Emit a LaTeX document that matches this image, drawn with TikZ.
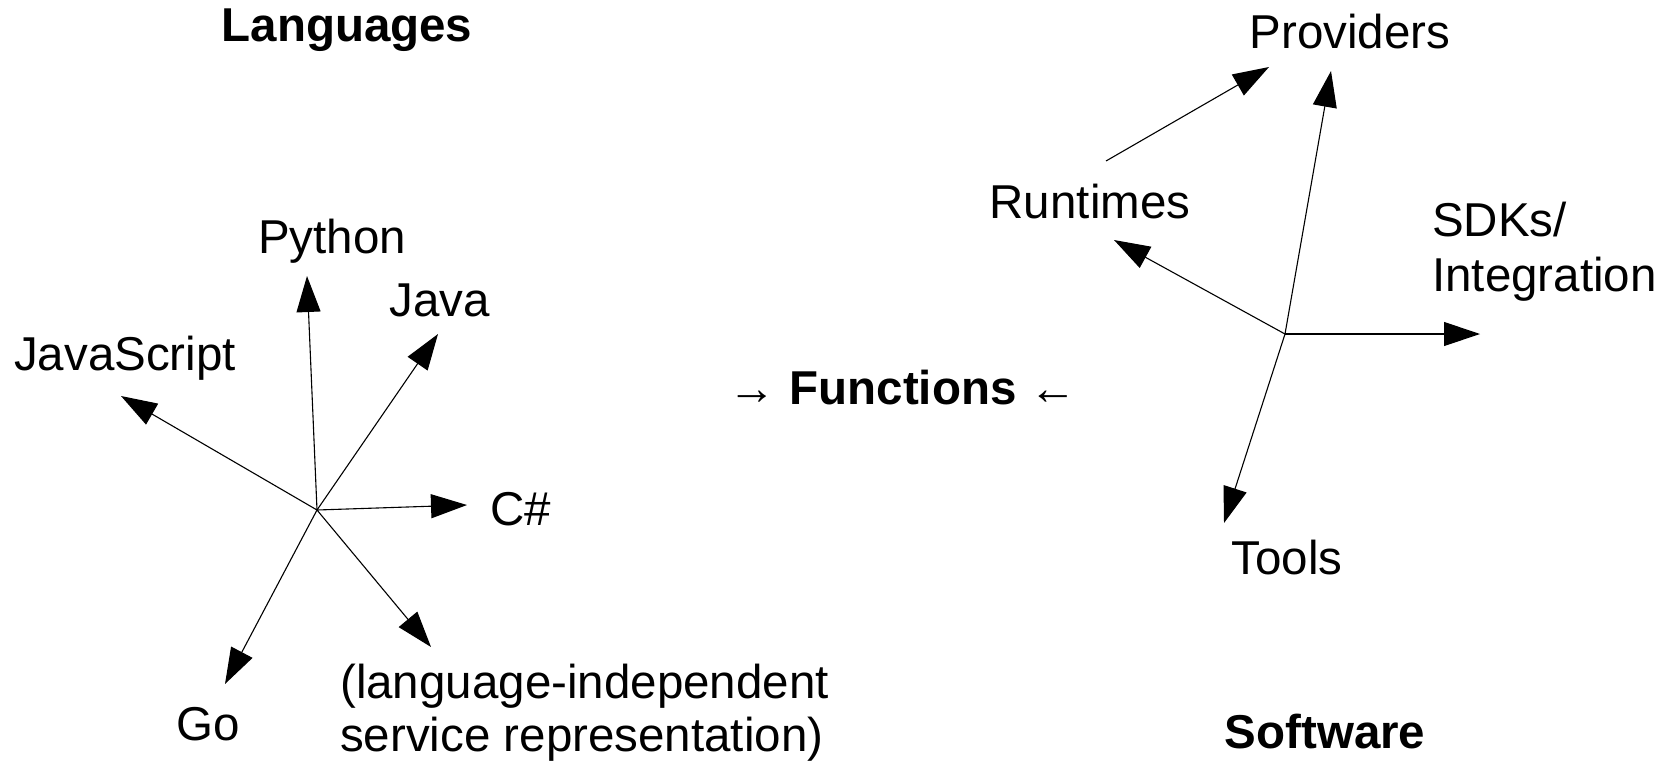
\documentclass[tikz,border=0pt]{standalone}
\usepackage{fontspec}
\setmainfont{Liberation Sans}
\usetikzlibrary{arrows.meta}
\begin{document}
\begin{tikzpicture}[x=1pt,y=-1pt,
  lbl/.style={font=\fontsize{47.5}{53}\selectfont, inner sep=0pt},
  title/.style={font=\fontsize{47.5}{53}\selectfont\bfseries, inner sep=0pt},
  arr/.style={-{Triangle[length=36pt,width=24pt]}, line width=1.1pt},
]
\useasboundingbox (0,0) rectangle (1675,764);
% titles
\node[title] (lang) at (347,30) {Languages};
\node[title] (soft) at (1325,732) {Software};
\node[lbl] (func) at (903,388) {→ \textbf{Functions} ←};
% left labels
\node[lbl] (py) at (332,241) {Python};
\node[lbl] (java) at (440,300) {Java};
\node[lbl] (js) at (125,358) {JavaScript};
\node[lbl] (cs) at (521,509) {C\#};
\node[lbl] (go) at (208,724) {Go};
\node[lbl, anchor=west, align=left] (li) at (340,713) {(language-independent\\service representation)};
% right labels
\node[lbl] (prov) at (1350,32) {Providers};
\node[lbl] (run) at (1090,202) {Runtimes};
\node[lbl, font=\fontsize{47.5}{55}\selectfont, anchor=west, align=left] (sdk) at (1432,252) {SDKs/\\Integration};
\node[lbl] (tools) at (1287,558) {Tools};
% hubs and tips
\coordinate (L) at (317,510);
\coordinate (R) at (1285,334);
\coordinate (pyT) at (307,276);
\coordinate (javaT) at (438,334);
\coordinate (jsT) at (121,396);
\coordinate (csT) at (467,505);
\coordinate (goT) at (225,684);
\coordinate (liT) at (431,647);
\coordinate (provT) at (1331,71);
\coordinate (runT) at (1114,240);
\coordinate (sdkT) at (1480,334);
\coordinate (toolsT) at (1224,523);
\coordinate (rpS) at (1106,161);
\coordinate (rpT) at (1269,67);
% arrows
\draw[arr] (L) -- (pyT);
\draw[arr] (L) -- (javaT);
\draw[arr] (L) -- (jsT);
\draw[arr] (L) -- (csT);
\draw[arr] (L) -- (goT);
\draw[arr] (L) -- (liT);
\draw[arr] (R) -- (provT);
\draw[arr] (R) -- (runT);
\draw[arr] (R) -- (sdkT);
\draw[arr] (R) -- (toolsT);
\draw[arr] (rpS) -- (rpT);
\end{tikzpicture}
\end{document}
